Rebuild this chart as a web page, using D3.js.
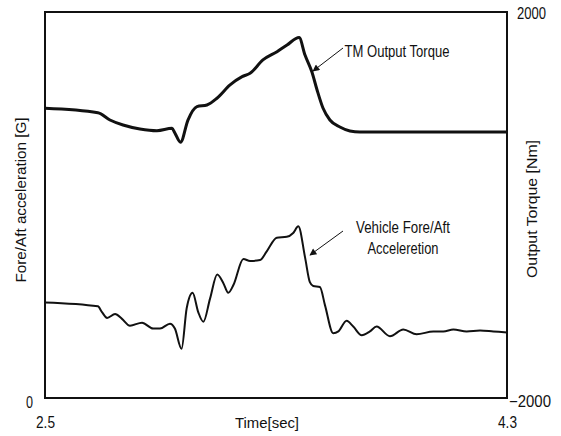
<!DOCTYPE html>
<html>
<head>
<meta charset="utf-8">
<script src="https://cdn.jsdelivr.net/npm/d3@7"></script>
<style>
  html, body { margin: 0; padding: 0; background: #fff; }
  svg { display: block; }
  text { font-family: "Liberation Sans", Arial, sans-serif; fill: #111; }
</style>
</head>
<body>
<svg id="chart" width="561" height="436"></svg>
<script>
// Axis ticks
const timeTicks = [2.5, 4.3];
const torqueTicks = [-2000, 2000];
const accelTicks = [0];

// TM output torque [Nm]
const timeTorque = [2.5, 2.706, 2.753, 2.804, 2.870, 2.936, 2.995, 3.006, 3.028,
  3.057, 3.092, 3.131, 3.170, 3.221, 3.268, 3.299, 3.349, 3.404, 3.443, 3.490,
  3.513, 3.540, 3.560, 3.583, 3.610, 3.649, 3.688, 3.727, 4.3];
const torque = [1002, 956, 881, 829, 788, 770, 795, 746, 650,
  880, 1019, 1036, 1106, 1244, 1330, 1365, 1503, 1589, 1658, 1736,
  1554, 1378, 1192, 1005, 881, 808, 767, 756, 756];

// Vehicle fore/aft acceleration [G]
const timeAccel = [2.5, 2.706, 2.722, 2.742, 2.773, 2.800, 2.831, 2.878, 2.921,
  2.948, 2.987, 3.006, 3.032, 3.052, 3.075, 3.097, 3.117, 3.143, 3.171, 3.195,
  3.214, 3.234, 3.273, 3.299, 3.338, 3.364, 3.403, 3.442, 3.467, 3.487, 3.513,
  3.532, 3.545, 3.571, 3.591, 3.623, 3.643, 3.675, 3.701, 3.734, 3.766, 3.792,
  3.844, 3.896, 3.948, 4.013, 4.052, 4.091, 4.143, 4.195, 4.247, 4.3];
const accel = [0.099, 0.095, 0.089, 0.083, 0.087, 0.082, 0.075, 0.078, 0.072,
  0.072, 0.077, 0.072, 0.051, 0.093, 0.109, 0.089, 0.079, 0.103, 0.128, 0.119,
  0.109, 0.117, 0.144, 0.142, 0.143, 0.152, 0.166, 0.167, 0.171, 0.178, 0.146,
  0.120, 0.116, 0.115, 0.096, 0.067, 0.069, 0.080, 0.074, 0.065, 0.069, 0.074,
  0.064, 0.071, 0.066, 0.069, 0.069, 0.071, 0.069, 0.070, 0.069, 0.068];

const svg = d3.select("#chart");
const plot = { left: 45, right: 507, top: 12, bottom: 398 };

const x = d3.scaleLinear().domain([2.5, 4.3]).range([plot.left, plot.right]);
const yTorque = d3.scaleLinear().domain([-2000, 2000]).range([plot.bottom, plot.top]);
const yAccel = d3.scaleLinear().domain([0, 0.4]).range([plot.bottom, plot.top]);

// Narrow tick glyphs: squeeze each label to its own width
function squeeze(sel, widthOf) {
  sel.attr("textLength", widthOf).attr("lengthAdjust", "spacingAndGlyphs");
}

// Bottom axis
const gx = svg.append("g")
  .attr("transform", `translate(0,${plot.bottom})`)
  .call(d3.axisBottom(x).tickValues(timeTicks).tickFormat(d3.format(".1f"))
    .tickSize(0).tickPadding(19));
gx.select(".domain").remove();
gx.selectAll(".tick").attr("font-family", null).attr("font-size", null);
gx.selectAll("text").attr("font-size", 16);
squeeze(gx.selectAll("text"), 19);

// Left axis
const gl = svg.append("g")
  .attr("transform", `translate(${plot.left},0)`)
  .call(d3.axisLeft(yAccel).tickValues(accelTicks).tickFormat(d3.format("d"))
    .tickSize(0).tickPadding(12));
gl.select(".domain").remove();
gl.selectAll("text").attr("font-size", 16).attr("dy", "0.62em");
squeeze(gl.selectAll("text"), 7);

// Right axis
const gr = svg.append("g")
  .attr("transform", `translate(${plot.right},0)`)
  .call(d3.axisRight(yTorque).tickValues(torqueTicks).tickFormat(d3.format("d"))
    .tickSize(0).tickPadding(3));
gr.select(".domain").remove();
gr.selectAll("text").attr("font-size", 16)
  .attr("x", d => d > 0 ? 10 : 2)
  .attr("dy", d => d > 0 ? "0.42em" : "0.5em");
squeeze(gr.selectAll("text"), d => d > 0 ? 29 : 42);

// Axis titles
svg.append("text")
  .attr("x", 267).attr("y", 428)
  .attr("text-anchor", "middle")
  .attr("font-size", 15)
  .attr("textLength", 64).attr("lengthAdjust", "spacingAndGlyphs")
  .text("Time[sec]");

svg.append("text")
  .attr("transform", `translate(26,200) rotate(-90)`)
  .attr("text-anchor", "middle")
  .attr("font-size", 15)
  .attr("textLength", 165).attr("lengthAdjust", "spacingAndGlyphs")
  .text("Fore/Aft acceleration [G]");

svg.append("text")
  .attr("transform", `translate(537,209) rotate(-90)`)
  .attr("text-anchor", "middle")
  .attr("font-size", 15)
  .attr("textLength", 138).attr("lengthAdjust", "spacingAndGlyphs")
  .text("Output Torque [Nm]");

// Plot frame
svg.append("rect")
  .attr("x", plot.left).attr("y", plot.top)
  .attr("width", plot.right - plot.left).attr("height", plot.bottom - plot.top)
  .attr("fill", "none").attr("stroke", "#111").attr("stroke-width", 2);

// Curves
const torqueData = timeTorque.map((t, i) => [t, torque[i]]);
const accelData = timeAccel.map((t, i) => [t, accel[i]]);

svg.append("path")
  .datum(torqueData)
  .attr("fill", "none").attr("stroke", "#111").attr("stroke-width", 3)
  .attr("stroke-linejoin", "round")
  .attr("d", d3.line().x(d => x(d[0])).y(d => yTorque(d[1])).curve(d3.curveMonotoneX));

svg.append("path")
  .datum(accelData)
  .attr("fill", "none").attr("stroke", "#111").attr("stroke-width", 2)
  .attr("stroke-linejoin", "round")
  .attr("d", d3.line().x(d => x(d[0])).y(d => yAccel(d[1])).curve(d3.curveMonotoneX));

// Annotations with arrows
const defs = svg.append("defs");
defs.append("marker")
  .attr("id", "arrowhead")
  .attr("viewBox", "0 0 10 10")
  .attr("refX", 9).attr("refY", 5)
  .attr("markerWidth", 9).attr("markerHeight", 7)
  .attr("markerUnits", "userSpaceOnUse")
  .attr("orient", "auto")
  .append("path").attr("d", "M0,0 L10,5 L0,10 Z").attr("fill", "#111");

function annotate(lines, tx, ty, lineGap, widths, from, to) {
  lines.forEach((s, i) => {
    svg.append("text")
      .attr("x", tx).attr("y", ty + i * lineGap)
      .attr("text-anchor", "middle")
      .attr("font-size", 17)
      .attr("textLength", widths[i])
      .attr("lengthAdjust", "spacingAndGlyphs")
      .text(s);
  });
  svg.append("line")
    .attr("x1", from[0]).attr("y1", from[1])
    .attr("x2", to[0]).attr("y2", to[1])
    .attr("stroke", "#111").attr("stroke-width", 1)
    .attr("marker-end", "url(#arrowhead)");
}

annotate(["TM Output Torque"], 397, 57, 0, [105], [343, 48], [313, 71]);
annotate(["Vehicle Fore/Aft", "Acceleretion"], 403, 233, 21, [94, 71], [343, 231], [310, 255]);
</script>
</body>
</html>
